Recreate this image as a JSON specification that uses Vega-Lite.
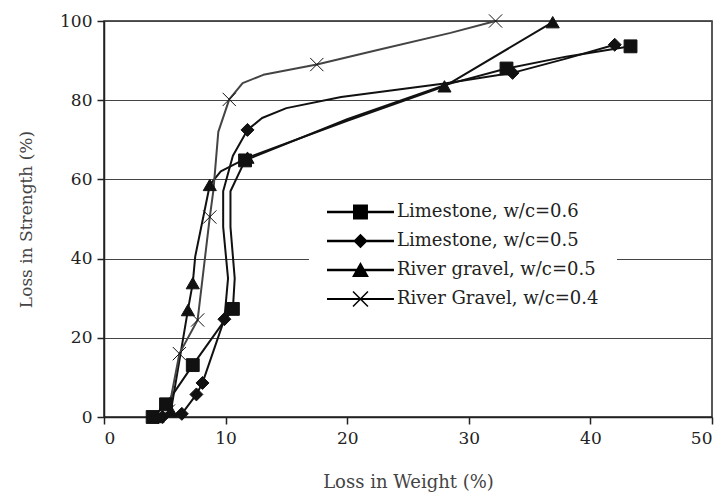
{
  "$schema": "https://vega.github.io/schema/vega-lite/v6.json",
  "width": 608,
  "height": 396,
  "autosize": {"type": "none"},
  "padding": {"left": 104, "top": 21, "right": 15, "bottom": 81},
  "background": "white",
  "config": {
    "font": "DejaVu Serif",
    "view": {"stroke": "#222", "strokeWidth": 1.5},
    "axis": {
      "labelFont": "DejaVu Serif", "titleFont": "DejaVu Serif",
      "labelFontSize": 17, "titleFontSize": 18, "titleFontWeight": "normal",
      "labelColor": "#222", "titleColor": "#444",
      "domainColor": "#222", "domainWidth": 1.5,
      "tickColor": "#222", "tickWidth": 1.5, "tickSize": 7
    },
    "legend": {
      "orient": "none", "legendX": 205, "legendY": 164,
      "symbolSize": 324, "symbolStrokeWidth": 0, "symbolOpacity": 1,
      "labelFont": "DejaVu Serif", "labelFontSize": 18, "labelColor": "#222", "labelLimit": 400,
      "labelOffset": 52, "padding": 18, "fillColor": "white", "rowPadding": 11
    }
  },
  "data": {
    "values": [
      {"s": "Limestone, w/c=0.6", "i": 1, "x": 4.0, "y": 0, "m": 1},
      {"s": "Limestone, w/c=0.6", "i": 2, "x": 5.1, "y": 3.2, "m": 1},
      {"s": "Limestone, w/c=0.6", "i": 3, "x": 7.3, "y": 13.1, "m": 1},
      {"s": "Limestone, w/c=0.6", "i": 4, "x": 10.6, "y": 27.3, "m": 1},
      {"s": "Limestone, w/c=0.6", "i": 5, "x": 10.75, "y": 35, "m": 0},
      {"s": "Limestone, w/c=0.6", "i": 6, "x": 10.4, "y": 48, "m": 0},
      {"s": "Limestone, w/c=0.6", "i": 7, "x": 10.4, "y": 57, "m": 0},
      {"s": "Limestone, w/c=0.6", "i": 8, "x": 11.6, "y": 64.8, "m": 1},
      {"s": "Limestone, w/c=0.6", "i": 9, "x": 20, "y": 75.2, "m": 0},
      {"s": "Limestone, w/c=0.6", "i": 10, "x": 28, "y": 83.8, "m": 0},
      {"s": "Limestone, w/c=0.6", "i": 11, "x": 33.1, "y": 88, "m": 1},
      {"s": "Limestone, w/c=0.6", "i": 12, "x": 38, "y": 91, "m": 0},
      {"s": "Limestone, w/c=0.6", "i": 13, "x": 43.3, "y": 93.6, "m": 1},

      {"s": "Limestone, w/c=0.5", "i": 1, "x": 4.8, "y": 0, "m": 1},
      {"s": "Limestone, w/c=0.5", "i": 2, "x": 6.4, "y": 0.8, "m": 1},
      {"s": "Limestone, w/c=0.5", "i": 3, "x": 7.6, "y": 5.7, "m": 1},
      {"s": "Limestone, w/c=0.5", "i": 4, "x": 8.1, "y": 8.6, "m": 1},
      {"s": "Limestone, w/c=0.5", "i": 5, "x": 9.9, "y": 24.7, "m": 1},
      {"s": "Limestone, w/c=0.5", "i": 6, "x": 10.2, "y": 35, "m": 0},
      {"s": "Limestone, w/c=0.5", "i": 7, "x": 9.8, "y": 48, "m": 0},
      {"s": "Limestone, w/c=0.5", "i": 8, "x": 9.8, "y": 57, "m": 0},
      {"s": "Limestone, w/c=0.5", "i": 9, "x": 10.6, "y": 66, "m": 0},
      {"s": "Limestone, w/c=0.5", "i": 10, "x": 11.8, "y": 72.5, "m": 1},
      {"s": "Limestone, w/c=0.5", "i": 11, "x": 13.0, "y": 75.5, "m": 0},
      {"s": "Limestone, w/c=0.5", "i": 12, "x": 15.0, "y": 78, "m": 0},
      {"s": "Limestone, w/c=0.5", "i": 13, "x": 19.5, "y": 80.8, "m": 0},
      {"s": "Limestone, w/c=0.5", "i": 14, "x": 28, "y": 84.2, "m": 0},
      {"s": "Limestone, w/c=0.5", "i": 15, "x": 33.6, "y": 86.9, "m": 1},
      {"s": "Limestone, w/c=0.5", "i": 16, "x": 38, "y": 90.5, "m": 0},
      {"s": "Limestone, w/c=0.5", "i": 17, "x": 42.0, "y": 94, "m": 1},

      {"s": "River gravel, w/c=0.5", "i": 1, "x": 4.4, "y": 0, "m": 1},
      {"s": "River gravel, w/c=0.5", "i": 2, "x": 5.5, "y": 1.5, "m": 1},
      {"s": "River gravel, w/c=0.5", "i": 3, "x": 6.9, "y": 27, "m": 1},
      {"s": "River gravel, w/c=0.5", "i": 4, "x": 7.3, "y": 33.8, "m": 1},
      {"s": "River gravel, w/c=0.5", "i": 5, "x": 7.5, "y": 40.5, "m": 0},
      {"s": "River gravel, w/c=0.5", "i": 6, "x": 8.7, "y": 58.6, "m": 1},
      {"s": "River gravel, w/c=0.5", "i": 7, "x": 9.6, "y": 62, "m": 0},
      {"s": "River gravel, w/c=0.5", "i": 8, "x": 11.8, "y": 65.5, "m": 1},
      {"s": "River gravel, w/c=0.5", "i": 9, "x": 20, "y": 74.8, "m": 0},
      {"s": "River gravel, w/c=0.5", "i": 10, "x": 28, "y": 83.5, "m": 1},
      {"s": "River gravel, w/c=0.5", "i": 11, "x": 36.9, "y": 99.7, "m": 1},

      {"s": "River Gravel, w/c=0.4", "i": 1, "x": 5.3, "y": 1.5, "m": 1},
      {"s": "River Gravel, w/c=0.4", "i": 2, "x": 6.2, "y": 16, "m": 1},
      {"s": "River Gravel, w/c=0.4", "i": 3, "x": 7.7, "y": 24.5, "m": 1},
      {"s": "River Gravel, w/c=0.4", "i": 4, "x": 8.7, "y": 50.5, "m": 1},
      {"s": "River Gravel, w/c=0.4", "i": 5, "x": 9.0, "y": 57.3, "m": 0},
      {"s": "River Gravel, w/c=0.4", "i": 6, "x": 9.4, "y": 72, "m": 0},
      {"s": "River Gravel, w/c=0.4", "i": 7, "x": 10.3, "y": 80.2, "m": 1},
      {"s": "River Gravel, w/c=0.4", "i": 8, "x": 11.4, "y": 84.3, "m": 0},
      {"s": "River Gravel, w/c=0.4", "i": 9, "x": 13.1, "y": 86.4, "m": 0},
      {"s": "River Gravel, w/c=0.4", "i": 10, "x": 17.5, "y": 89, "m": 1},
      {"s": "River Gravel, w/c=0.4", "i": 11, "x": 22.5, "y": 92.7, "m": 0},
      {"s": "River Gravel, w/c=0.4", "i": 12, "x": 28.5, "y": 97, "m": 0},
      {"s": "River Gravel, w/c=0.4", "i": 13, "x": 32.2, "y": 100, "m": 1}
    ]
  },
  "layer": [
    {
      "mark": {"type": "line", "strokeJoin": "round"},
      "encoding": {
        "x": {"field": "x", "type": "quantitative", "scale": {"domain": [0, 50], "nice": false},
          "axis": {"values": [0, 10, 20, 30, 40, 50], "grid": false, "title": "Loss in Weight (%)", "titlePadding": 27, "labelPadding": 6}},
        "y": {"field": "y", "type": "quantitative", "scale": {"domain": [0, 100], "nice": false},
          "axis": {"values": [0, 20, 40, 60, 80, 100], "grid": true, "gridColor": "#444", "gridWidth": 1, "title": "Loss in Strength (%)", "titleFontSize": 17, "titlePadding": 24, "labelPadding": 5}},
        "order": {"field": "i", "type": "quantitative"},
        "detail": {"field": "s", "type": "nominal"},
        "stroke": {"field": "s", "type": "nominal",
          "scale": {"domain": ["Limestone, w/c=0.6", "Limestone, w/c=0.5", "River gravel, w/c=0.5", "River Gravel, w/c=0.4"], "range": ["#111", "#111", "#111", "#444"]}, "legend": null},
        "strokeWidth": {"field": "s", "type": "nominal",
          "scale": {"domain": ["Limestone, w/c=0.6", "Limestone, w/c=0.5", "River gravel, w/c=0.5", "River Gravel, w/c=0.4"], "range": [2, 2, 2, 1.4]}, "legend": null}
      }
    },
    {
      "transform": [{"filter": "datum.m == 1"}],
      "mark": {"type": "point", "filled": true, "fill": "#111", "stroke": "#111", "strokeWidth": 1, "opacity": 1},
      "encoding": {
        "x": {"field": "x", "type": "quantitative"},
        "y": {"field": "y", "type": "quantitative"},
        "shape": {"field": "s", "type": "nominal",
          "scale": {"domain": ["Limestone, w/c=0.6", "Limestone, w/c=0.5", "River gravel, w/c=0.5", "River Gravel, w/c=0.4"], "range": ["square", "diamond", "triangle-up", "M-1,-1L1,1M-1,1L1,-1"]}, "legend": null},
        "size": {"field": "s", "type": "nominal",
          "scale": {"domain": ["Limestone, w/c=0.6", "Limestone, w/c=0.5", "River gravel, w/c=0.5", "River Gravel, w/c=0.4"], "range": [165, 175, 260, 180]}, "legend": null}
      }
    },
    {
      "transform": [{"filter": "datum.m == 1"}],
      "mark": {"type": "point", "filled": true, "opacity": 0},
      "encoding": {
        "x": {"field": "x", "type": "quantitative"},
        "y": {"field": "y", "type": "quantitative"},
        "shape": {"field": "s", "type": "nominal", "title": null,
          "scale": {"domain": ["Limestone, w/c=0.6", "Limestone, w/c=0.5", "River gravel, w/c=0.5", "River Gravel, w/c=0.4"],
            "range": [
              "M-1,-0.14H6.44V0.14H-1Z M1.89,-0.83H3.55V0.83H1.89Z",
              "M-1,-0.14H6.44V0.14H-1Z M2.72,-0.8L3.52,0L2.72,0.8L1.92,0Z",
              "M-1,-0.14H6.44V0.14H-1Z M2.72,-0.89L3.66,0.78H1.78Z",
              "M-1,-0.11H6.44V0.11H-1Z M1.949,-0.889L3.609,0.771L3.491,0.889L1.831,-0.771Z M1.831,0.771L3.491,-0.889L3.609,-0.771L1.949,0.889Z"
            ]}},
        "fill": {"field": "s", "type": "nominal", "title": null,
          "scale": {"domain": ["Limestone, w/c=0.6", "Limestone, w/c=0.5", "River gravel, w/c=0.5", "River Gravel, w/c=0.4"], "range": ["#111", "#111", "#111", "#555"]}}
      }
    }
  ],
  "resolve": {"scale": {"shape": "independent", "size": "independent"}}
}
